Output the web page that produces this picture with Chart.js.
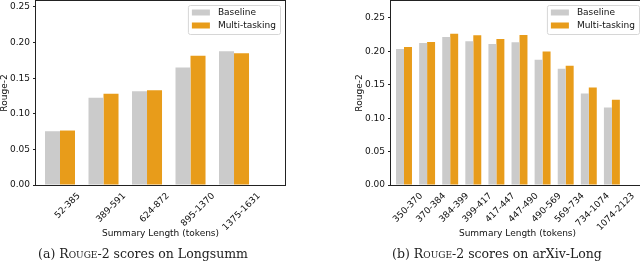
<!DOCTYPE html>
<html>
<head>
<meta charset="utf-8">
<script src="https://cdn.jsdelivr.net/npm/chart.js@4"></script>
<style>
  html, body { margin: 0; padding: 0; background: #fff; }
  body { width: 640px; height: 262px; overflow: hidden; position: relative; }
  canvas { position: absolute; top: 0; }
  #chartA { left: 0; }
  #chartB { left: 320px; }
  .caption {
    position: absolute; top: 246px; height: 16px; line-height: 16px;
    font-family: "DejaVu Serif", serif; font-size: 12.5px; color: #222;
    text-align: center; white-space: nowrap;
  }
  .sc { font-variant: small-caps; }
</style>
</head>
<body>
<canvas id="chartA" width="320" height="262"></canvas>
<canvas id="chartB" width="330" height="262"></canvas>
<div class="caption" style="left:0;width:286px">(a) R<span class="sc">ouge</span>-2 scores on Longsumm</div>
<div class="caption" style="left:354px;width:286px">(b) R<span class="sc">ouge</span>-2 scores on arXiv-Long</div>
<script>
// Longsumm
const lenBinsA = ['52-385', '389-591', '624-872', '895-1370', '1375-1631'];
const baselineA = [0.0755, 0.1225, 0.1315, 0.165, 0.188];
const multiA = [0.0765, 0.128, 0.133, 0.1815, 0.185];

// arXiv-Long
const lenBinsB = ['350-370', '370-384', '384-399', '399-417', '417-447', '447-490', '490-569', '569-734', '734-1074', '1074-2123'];
const baselineB = [0.2035, 0.2125, 0.2215, 0.215, 0.211, 0.2135, 0.1875, 0.174, 0.137, 0.116];
const multiB = [0.2065, 0.214, 0.2265, 0.224, 0.2185, 0.2245, 0.200, 0.1785, 0.146, 0.1275];

const yTicks = [0, 0.05, 0.10, 0.15, 0.20, 0.25];

const GRAY = '#cbcbcb';
const ORANGE = '#e89c1a';
const FONT = '"DejaVu Sans", sans-serif';

// draws the box, rotated tick labels, axis titles and legend
const decor = {
  id: 'decor',
  afterDraw(chart) {
    const { ctx, chartArea: a } = chart;
    const labels = chart.data.labels;
    ctx.save();
    ctx.strokeStyle = '#222';
    ctx.lineWidth = 1;
    ctx.strokeRect(a.left - 0.5, a.top - 0.5, a.right - a.left + 1, a.bottom - a.top + 1);

    ctx.fillStyle = '#111';
    ctx.font = '9px ' + FONT;
    ctx.textAlign = 'center';
    ctx.textBaseline = 'middle';

    // x labels, centred under the orange bars, rotated 45deg
    const orange = chart.getDatasetMeta(1).data;
    labels.forEach((lab, i) => {
      const w = ctx.measureText(lab).width;
      const d = (w + 7) * Math.SQRT1_2;
      ctx.save();
      ctx.translate(orange[i].x, a.bottom + 7 + d / 2);
      ctx.rotate(-Math.PI / 4);
      ctx.fillText(lab, 0, 0);
      ctx.restore();
    });

    ctx.fillText('Summary Length (tokens)', (a.left + a.right) / 2, 234);

    ctx.save();
    ctx.translate(a.left - 31, (a.top + a.bottom) / 2);
    ctx.rotate(-Math.PI / 2);
    ctx.fillText('Rouge-2', 0, 0);
    ctx.restore();

    // legend
    const sets = chart.data.datasets;
    const tw = Math.max(...sets.map(s => ctx.measureText(s.label).width));
    const bw = 4 + 18 + 8 + tw + 4;
    const bh = 29;
    const bx = a.right - 5 - bw;
    const by = a.top + 4;
    ctx.beginPath();
    ctx.roundRect(bx + 0.5, by + 0.5, bw, bh, 2);
    ctx.fillStyle = 'rgba(255,255,255,0.85)';
    ctx.fill();
    ctx.strokeStyle = '#d6d6d6';
    ctx.stroke();
    ctx.textAlign = 'left';
    sets.forEach((s, k) => {
      const cy = by + 7.5 + k * 13;
      ctx.fillStyle = s.backgroundColor;
      ctx.fillRect(bx + 4, cy - 3, 18, 6);
      ctx.fillStyle = '#111';
      ctx.fillText(s.label, bx + 30, cy);
    });
    ctx.restore();
  }
};

function makeChart(id, labels, base, multi, opt) {
  const toPts = arr => arr.map((v, i) => ({ x: i, y: v }));
  return new Chart(document.getElementById(id), {
    type: 'bar',
    data: {
      labels: labels,
      datasets: [
        { label: 'Baseline', data: toPts(base), backgroundColor: GRAY },
        { label: 'Multi-tasking', data: toPts(multi), backgroundColor: ORANGE }
      ]
    },
    options: {
      responsive: false,
      animation: false,
      categoryPercentage: 0.69,
      barPercentage: 1,
      layout: { padding: { top: 1, right: opt.padRight, left: 0, bottom: 0 } },
      plugins: { legend: { display: false }, tooltip: { enabled: false } },
      scales: {
        x: {
          type: 'linear',
          offset: false,
          min: opt.xMin,
          max: opt.xMax,
          grid: { display: false },
          border: { display: false },
          ticks: { display: false },
          afterBuildTicks: s => { s.ticks = labels.map((_, i) => ({ value: i })); },
          afterFit: s => { s.height = 77; s.paddingLeft = 0; s.paddingRight = 0; }
        },
        y: {
          min: 0,
          max: opt.yMax,
          grid: { drawOnChartArea: false, drawTicks: true, tickLength: 3, color: '#222' },
          border: { display: false },
          afterBuildTicks: s => { s.ticks = yTicks.map(v => ({ value: v })); },
          ticks: {
            padding: 3,
            color: '#111',
            font: { family: FONT, size: 9 },
            callback: v => v.toFixed(2)
          },
          afterFit: s => { s.width = opt.yWidth; s.paddingTop = 0; s.paddingBottom = 0; }
        }
      }
    },
    plugins: [decor]
  });
}

makeChart('chartA', lenBinsA, baselineA, multiA, {
  xMin: -0.552, xMax: 5.172, yMax: 0.2584, padRight: 35, yWidth: 36
});
makeChart('chartB', lenBinsB, baselineB, multiB, {
  xMin: -0.563, xMax: 10.39, yMax: 0.2754, padRight: 6, yWidth: 71
});
</script>
</body>
</html>
